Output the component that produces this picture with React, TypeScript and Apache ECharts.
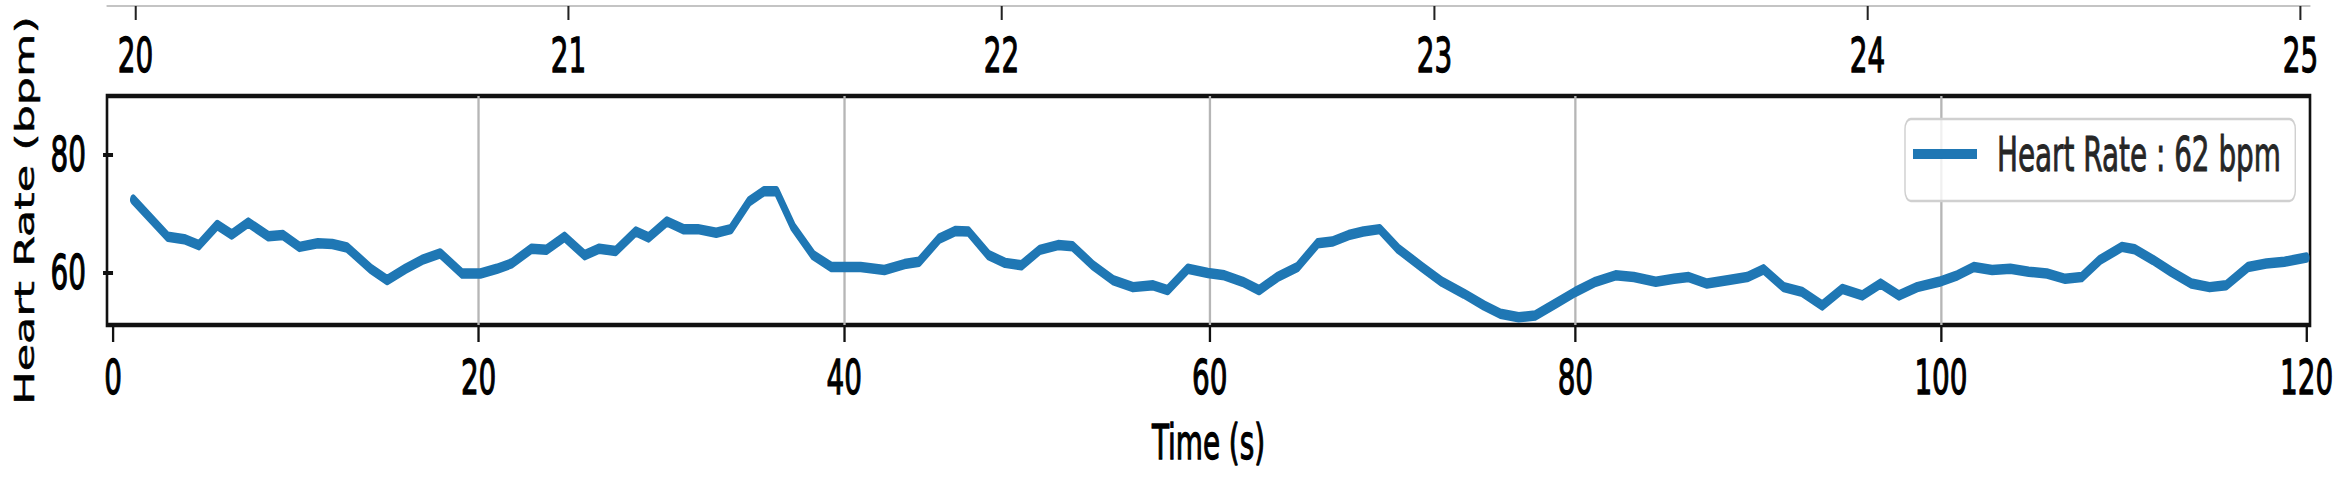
import React, { useEffect, useRef } from "react";
import * as echarts from "echarts";

// ---- data ----
const times: number[] = [
  1.1, 3.0, 3.9, 4.7, 5.7, 6.5, 7.4, 8.5, 9.3, 10.2, 11.2, 12.0, 12.8, 14.1, 15.0, 16.0, 16.9, 17.9, 19.1, 20.1,
  21.0, 21.8, 22.9, 23.7, 24.7, 25.8, 26.6, 27.5, 28.6, 29.3, 30.3, 31.2, 32.0, 33.0, 33.8, 34.8, 35.6, 36.3, 37.2, 38.3,
  39.3, 40.9, 42.2, 43.3, 44.1, 45.2, 46.1, 46.8, 47.9, 48.8, 49.7, 50.7, 51.7, 52.5, 53.6, 54.7, 55.8, 56.9, 57.7, 58.8,
  59.9, 60.8, 61.8, 62.7, 63.7, 64.8, 65.9, 66.7, 67.6, 68.4, 69.3, 70.3, 71.6, 72.7, 73.9, 75.0, 75.9, 76.9, 77.8, 78.9,
  80.0, 81.1, 82.2, 83.2, 84.4, 85.4, 86.2, 87.2, 88.4, 89.4, 90.3, 91.4, 92.4, 93.5, 94.6, 95.7, 96.7, 97.7, 98.7, 99.9,
  100.9, 101.8, 102.8, 103.8, 104.8, 105.8, 106.8, 107.7, 108.7, 109.9, 110.6, 111.6, 112.6, 113.7, 114.7, 115.6, 116.8, 117.8, 118.8, 120.0,
];
const heartRate: number[] = [
  72.4, 66.1, 65.7, 64.7, 68.1, 66.5, 68.5, 66.2, 66.4, 64.4, 65.0, 64.9, 64.3, 60.7, 58.8, 60.7, 62.2, 63.3, 59.9, 59.9,
  60.7, 61.6, 64.1, 63.9, 66.1, 63.0, 64.1, 63.7, 67.0, 66.0, 68.7, 67.4, 67.4, 66.8, 67.4, 72.1, 73.8, 73.8, 67.8, 63.0,
  61.0, 61.0, 60.5, 61.5, 61.9, 65.8, 67.1, 67.0, 63.0, 61.7, 61.3, 63.9, 64.7, 64.5, 61.3, 58.8, 57.6, 57.9, 57.1, 60.7,
  60.0, 59.6, 58.5, 57.1, 59.3, 61.0, 65.0, 65.3, 66.4, 67.0, 67.4, 64.1, 61.0, 58.5, 56.5, 54.5, 53.1, 52.5, 52.8, 54.8,
  56.8, 58.5, 59.6, 59.3, 58.5, 59.0, 59.3, 58.2, 58.8, 59.3, 60.6, 57.6, 56.8, 54.5, 57.3, 56.2, 58.2, 56.2, 57.6, 58.5,
  59.6, 61.0, 60.5, 60.7, 60.2, 59.9, 59.0, 59.3, 62.2, 64.4, 64.0, 62.2, 60.2, 58.2, 57.6, 57.9, 61.0, 61.6, 61.9, 62.6,
];
const bottomTicks: number[] = [0, 20, 40, 60, 80, 100, 120];
const topTicks: number[] = [20, 21, 22, 23, 24, 25];
const yTicks: number[] = [60, 80];
const seriesName = "Heart Rate : 62 bpm";
const xTitle = "Time (s)";
const yTitle = "Heart Rate (bpm)";

// The reference is horizontally squeezed: draw wider, then scale X by S.
const PAGE_W = 2341;
const PAGE_H = 481;
const W = 4036;
const S = PAGE_W / W;
const X = (v: number) => v / S;
const FONT = "DejaVu Sans";
const FS = 48;

export default function App() {
  const ref = useRef<HTMLDivElement>(null);
  useEffect(() => {
    document.body.style.margin = "0";
    if (!ref.current) return;
    const chart = echarts.init(ref.current, null, { renderer: "svg" });
    const grid = "#b6b6b6";
    const tickText = {
      fontSize: FS, color: "#000000", fontFamily: FONT,
      textBorderColor: "#000000", textBorderWidth: 1.3,
    };
    chart.setOption({
      animation: false,
      backgroundColor: "#ffffff",
      textStyle: { fontFamily: FONT },
      grid: [
        {
          left: X(107), right: X(31), top: 96, bottom: 156,
          show: true, borderColor: "#111111", borderWidth: 4.5, backgroundColor: "transparent",
        },
        { left: X(107), right: X(31), top: 0, height: 6, show: false },
      ],
      xAxis: [
        {
          type: "value", gridIndex: 0, min: -0.33, max: 120.19, position: "bottom",
          axisLine: { show: false },
          axisTick: { show: true, length: 17, lineStyle: { color: "#111111", width: 4 }, customValues: bottomTicks },
          axisLabel: { customValues: bottomTicks, margin: 28, ...tickText },
          splitLine: { show: true, showMinLine: false, showMaxLine: false, lineStyle: { color: grid, width: 4 } },
          name: xTitle, nameLocation: "middle", nameGap: 93,
          nameTextStyle: { ...tickText },
        },
        {
          type: "value", gridIndex: 1, min: 19.934, max: 25.022, position: "bottom",
          axisLine: { show: true, lineStyle: { color: "#c4c4c4", width: 2 } },
          axisTick: { show: true, length: 14, lineStyle: { color: "#222222", width: 3.5 }, customValues: topTicks },
          axisLabel: { margin: 25, customValues: topTicks, ...tickText },
          splitLine: { show: false },
        },
      ],
      yAxis: [
        {
          type: "value", gridIndex: 0, min: 51.2, max: 89.9, splitNumber: 2,
          axisLine: { show: false },
          axisTick: { show: true, length: X(10), lineStyle: { color: "#111111", width: 4 }, customValues: yTicks },
          axisLabel: { customValues: yTicks, margin: X(21), ...tickText },
          splitLine: { show: true, showMinLine: false, showMaxLine: false, lineStyle: { color: grid, width: 4 } },
          name: yTitle, nameLocation: "middle", nameGap: 118,
          nameTextStyle: { fontSize: 44.5, color: "#000000", fontFamily: FONT, textBorderColor: "#000000", textBorderWidth: 0.8 },
        },
        { type: "value", gridIndex: 1, min: 0, max: 1, show: false },
      ],
      legend: {
        show: true, left: X(1905), top: 119, orient: "horizontal",
        icon: "rect", itemWidth: X(64), itemHeight: 10,
        padding: [9, X(14), 21, X(8)],
        backgroundColor: "rgba(255,255,255,0.8)", borderColor: "#d0d0d0", borderWidth: 2.5, borderRadius: 10,
        selectedMode: false,
        textStyle: {
          fontSize: FS, color: "#262626", lineHeight: 52, padding: [0, 0, 0, X(20) - 5], fontFamily: FONT,
          textBorderColor: "#262626", textBorderWidth: 1,
        },
        data: [seriesName],
      },
      series: [
        {
          type: "line", name: seriesName, xAxisIndex: 0, yAxisIndex: 0,
          data: times.map((t, i) => [t, heartRate[i]]),
          showSymbol: false, symbol: "none", clip: true,
          lineStyle: { width: 10.5, color: "#1f77b4", join: "round", cap: "round" },
          itemStyle: { color: "#1f77b4" },
          z: 3,
        },
      ],
    });
    return () => chart.dispose();
  }, []);
  return (
    <div style={{ width: PAGE_W, height: PAGE_H, overflow: "hidden", background: "#fff", position: "relative" }}>
      <div
        ref={ref}
        style={{ width: W, height: PAGE_H, transform: `scaleX(${S})`, transformOrigin: "0 0", position: "absolute", left: 0, top: 0 }}
      />
    </div>
  );
}
